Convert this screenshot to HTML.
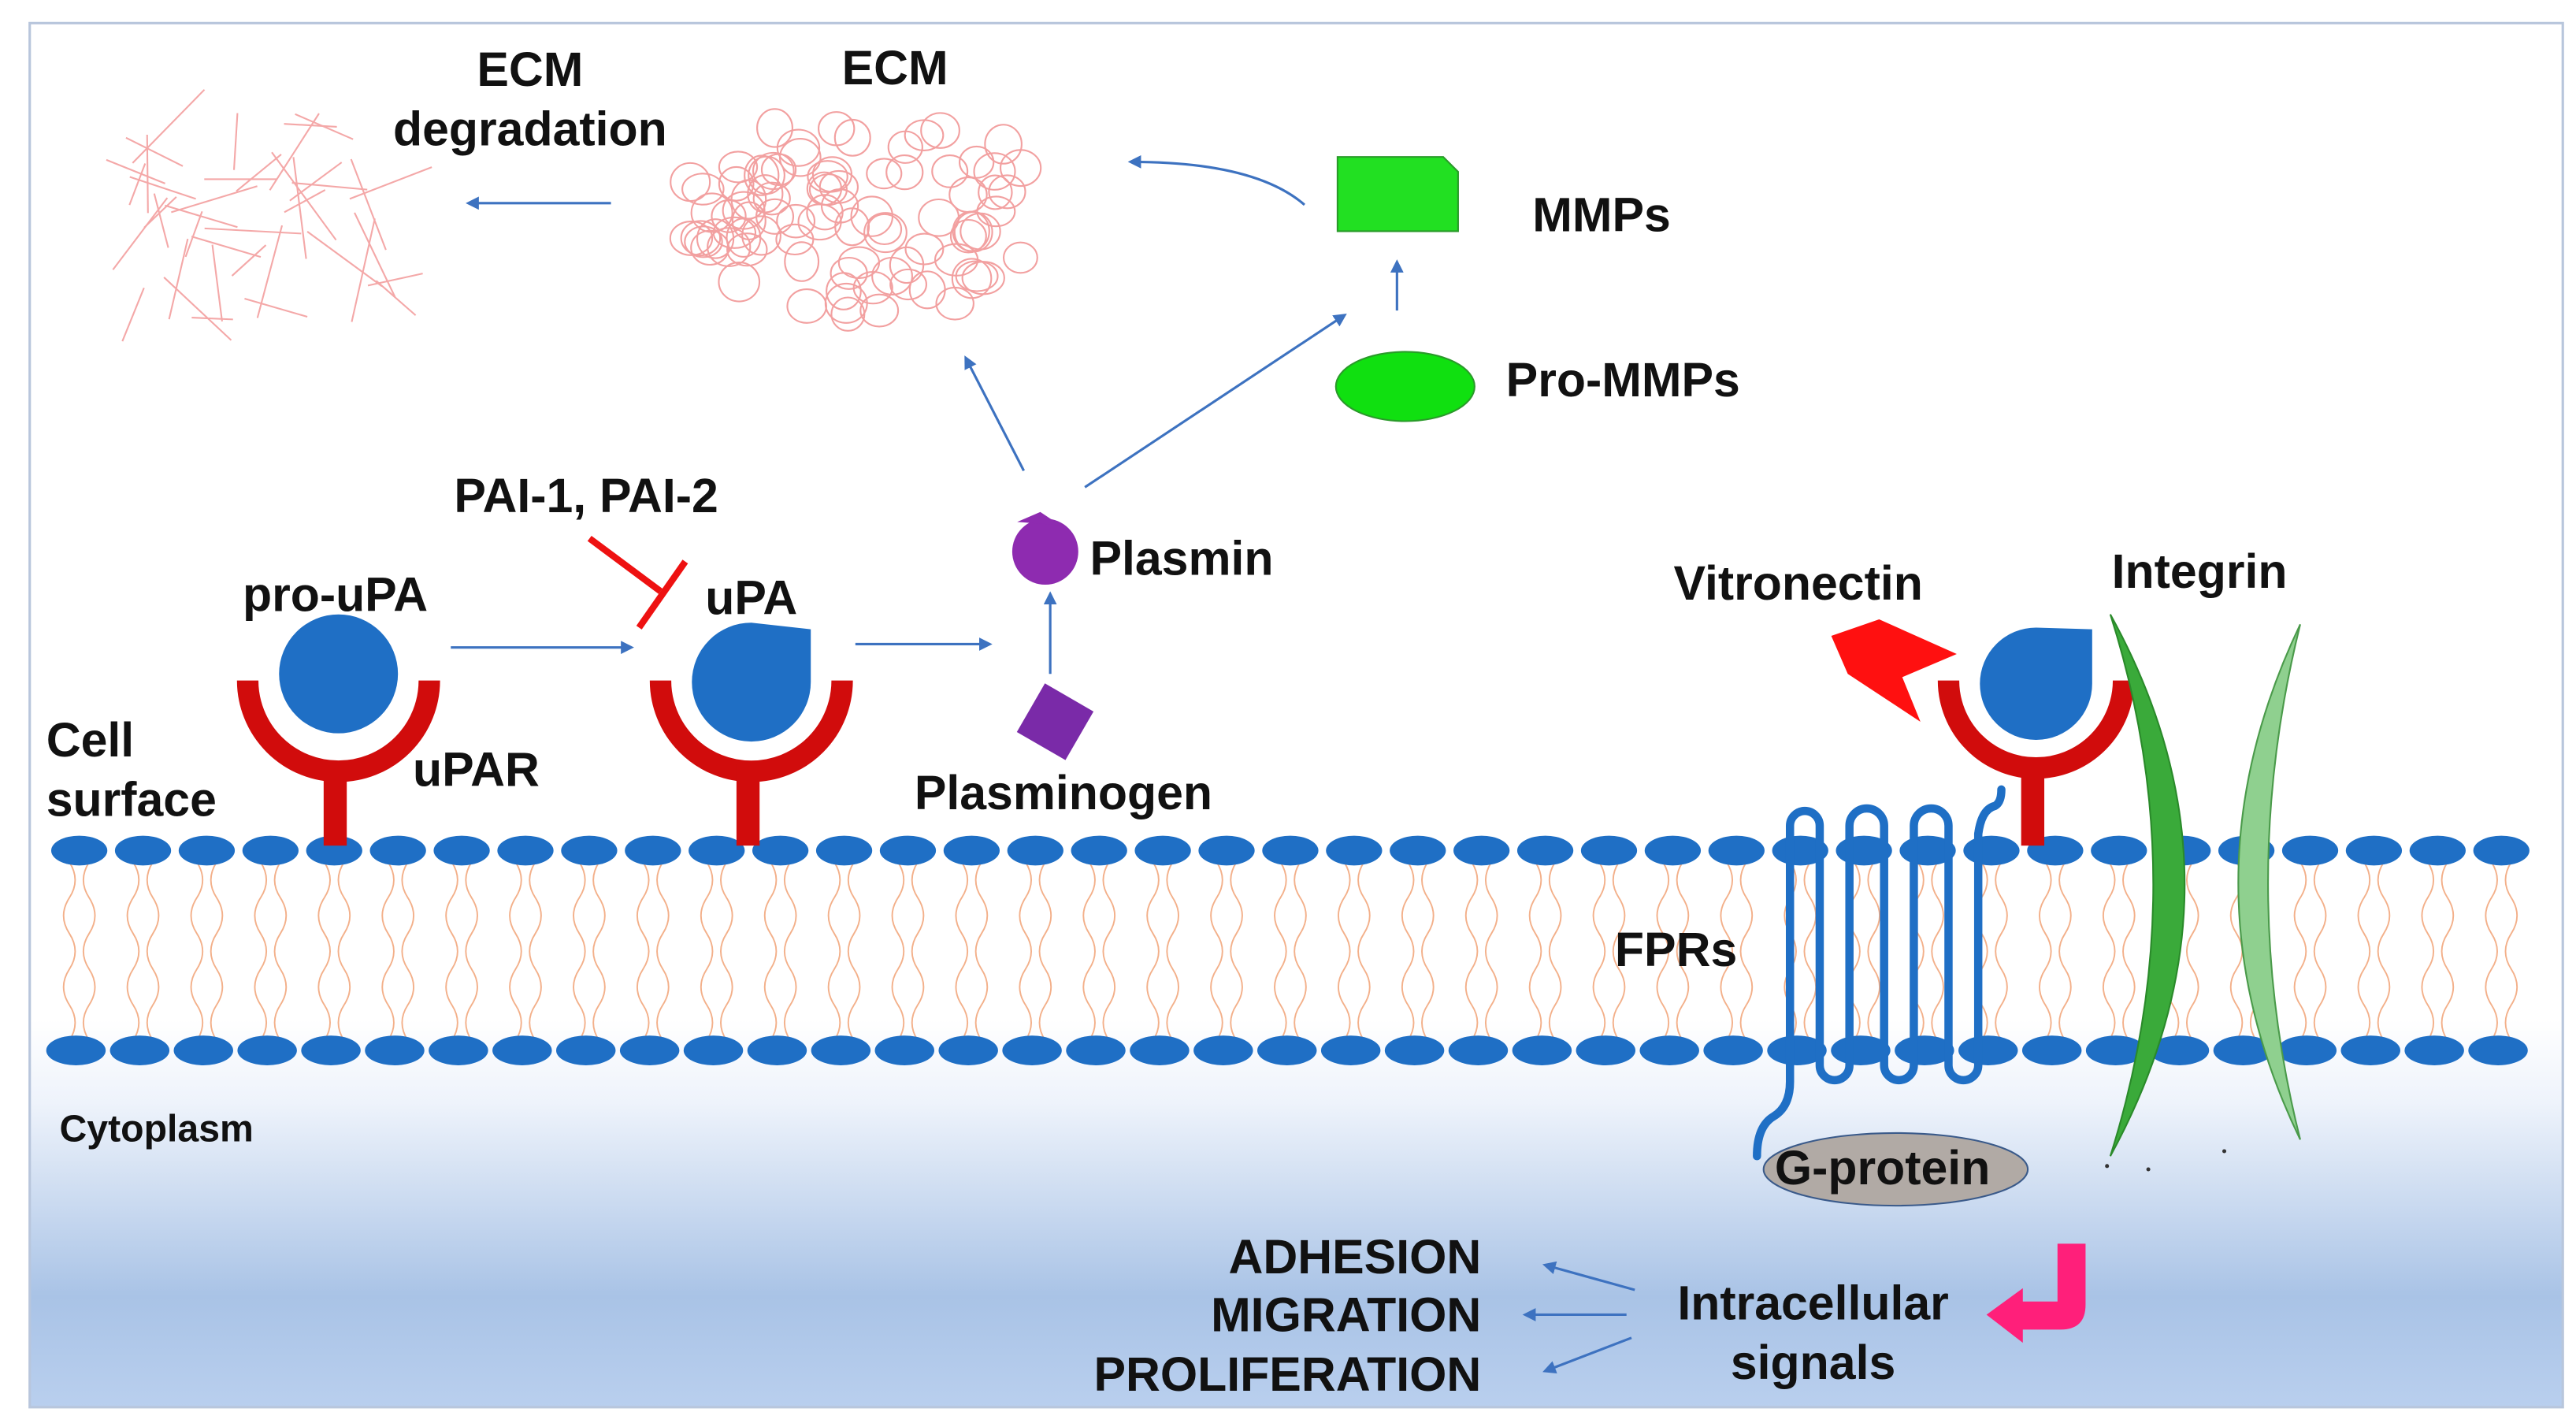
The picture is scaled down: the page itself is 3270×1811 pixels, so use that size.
<!DOCTYPE html>
<html><head><meta charset="utf-8"><style>
html,body{margin:0;padding:0;background:#fff;}
svg{display:block;}
text{font-family:"Liberation Sans",Arial,sans-serif;font-weight:bold;fill:#111;}
</style></head><body>
<svg id="s" width="3270" height="1811" viewBox="0 0 1560 864" preserveAspectRatio="none" xmlns="http://www.w3.org/2000/svg">
<defs>
<linearGradient id="bg" x1="0" y1="0" x2="0" y2="1">
<stop offset="0" stop-color="#ffffff"/>
<stop offset="0.72" stop-color="#ffffff"/>
<stop offset="0.78" stop-color="#eef3fb"/>
<stop offset="0.92" stop-color="#a9c3e6"/>
<stop offset="1" stop-color="#b9cfee"/>
</linearGradient>
<marker id="ah" markerWidth="8" markerHeight="8" refX="6" refY="4" orient="auto" markerUnits="userSpaceOnUse">
<path d="M0,0 L8,4 L0,8 z" fill="#3d72c0"/>
</marker>
</defs>
<rect x="18" y="14" width="1534" height="838" fill="url(#bg)" stroke="#b8c6dc" stroke-width="1.5"/>
<g id="mem"></g>
<g id="ecm" fill="none" stroke="#f2a0a0" stroke-width="1"></g>
<g id="fib" stroke="#f4a8a8" stroke-width="1"></g>

<g stroke="#3d72c0" stroke-width="1.5" fill="none" marker-end="url(#ah)">
<line x1="370" y1="123" x2="284" y2="123"/>
<path d="M790,124 Q760,98 685,98"/>
<line x1="846" y1="188" x2="846" y2="159"/>
<line x1="657" y1="295" x2="814" y2="191"/>
<line x1="620" y1="285" x2="585" y2="217"/>
<line x1="273" y1="392" x2="382" y2="392"/>
<line x1="518" y1="390" x2="599" y2="390"/>
<line x1="636" y1="408" x2="636" y2="360"/>
<line x1="990" y1="781" x2="936" y2="766"/>
<line x1="985" y1="796" x2="924" y2="796"/>
<line x1="988" y1="810" x2="936" y2="830"/>
</g>
<line x1="357" y1="326" x2="400" y2="358" stroke="#ee1111" stroke-width="4"/>
<line x1="387" y1="380" x2="415" y2="340" stroke="#ee1111" stroke-width="4"/>

<path d="M810,95 L874,95 L883,104 L883,140 L810,140 z" fill="#22e022" stroke="#2a9a2a" stroke-width="1"/>
<ellipse cx="851" cy="234" rx="42" ry="21" fill="#10e010" stroke="#2a9a2a" stroke-width="1"/>

<circle cx="633" cy="334" r="20" fill="#8e2bb0"/>
<path d="M616,316 L630,310 L642,318 z" fill="#8e2bb0"/>
<rect x="622" y="420" width="34" height="34" fill="#7a2aa8" transform="rotate(30 639 437)"/>

<g fill="none" stroke="#d10c0c" stroke-width="13">
<path d="M150,412 A55,55 0 0 0 260,412"/>
<path d="M400,412 A55,55 0 0 0 510,412"/>
<path d="M1180,412 A52,52 0 0 0 1286,412"/>
</g>
<rect x="196" y="462" width="14" height="50" fill="#d10c0c"/>
<rect x="446" y="462" width="14" height="50" fill="#d10c0c"/>
<rect x="1224" y="462" width="14" height="50" fill="#d10c0c"/>
<circle cx="205" cy="408" r="36" fill="#1f6fc5"/>
<path d="M491,381 L491,413 A36,36 0 1 1 455,377 z" fill="#1f6fc5"/>
<path d="M1267,381 L1267,414 A34,34 0 1 1 1233,380 z" fill="#1f6fc5"/>

<path d="M1109,385 L1138,375 L1185,396 L1152,410 L1163,437 L1119,408 z" fill="#ff1010"/>

<g fill="none" stroke="#1f6fc5" stroke-width="5" stroke-linecap="round">
<path d="M1064,700 Q1064,682 1074,676 Q1084,670 1084,655 L1084,500 A9,9 0 0 1 1102,500 L1102,645 A9,9 0 0 0 1120,645 L1120,500 A10.5,10.5 0 0 1 1141,500 L1141,645 A9,9 0 0 0 1159,645 L1159,500 A10.5,10.5 0 0 1 1180,500 L1180,645 A9,9 0 0 0 1198,645 L1198,505"/>
<path d="M1198,505 Q1200,490 1208,488 Q1212,486 1212,478"/>
</g>
<ellipse cx="1148" cy="708" rx="80" ry="22" fill="#b1aaa5" stroke="#3a5a8a" stroke-width="1"/>

<path d="M1278,372 Q1368,535 1278,700 Q1330,535 1278,372 z" fill="#3aaa3a" stroke="#2a8a2a" stroke-width="1"/>
<path d="M1393,378 Q1318,535 1393,690 Q1354,535 1393,378 z" fill="#8fd08f" stroke="#4a9a4a" stroke-width="1"/>
<circle cx="1276" cy="706" r="1.2" fill="#333"/><circle cx="1301" cy="708" r="1.2" fill="#333"/><circle cx="1347" cy="697" r="1.2" fill="#333"/>

<path d="M1246,753 L1263,753 L1263,790 Q1263,805 1248,805 L1225,805 L1225,813 L1203,796 L1225,780 L1225,788 L1246,788 z" fill="#ff1f7a"/>

<g font-size="29">
<text x="321" y="52" text-anchor="middle">ECM</text>
<text x="321" y="88" text-anchor="middle">degradation</text>
<text x="542" y="51" text-anchor="middle">ECM</text>
<text x="928" y="140">MMPs</text>
<text x="912" y="240">Pro-MMPs</text>
<text x="355" y="310" text-anchor="middle">PAI-1, PAI-2</text>
<text x="203" y="370" text-anchor="middle">pro-uPA</text>
<text x="455" y="372" text-anchor="middle">uPA</text>
<text x="660" y="348">Plasmin</text>
<text x="1089" y="363" text-anchor="middle">Vitronectin</text>
<text x="1332" y="356" text-anchor="middle">Integrin</text>
<text x="28" y="458">Cell</text>
<text x="28" y="494">surface</text>
<text x="250" y="476">uPAR</text>
<text x="644" y="490" text-anchor="middle">Plasminogen</text>
<text x="1015" y="585" text-anchor="middle">FPRs</text>
<text x="1140" y="717" text-anchor="middle">G-protein</text>
<text x="897" y="771" text-anchor="end">ADHESION</text>
<text x="897" y="806" text-anchor="end">MIGRATION</text>
<text x="897" y="842" text-anchor="end">PROLIFERATION</text>
<text x="1098" y="799" text-anchor="middle">Intracellular</text>
<text x="1098" y="835" text-anchor="middle">signals</text>
</g>
<text x="36" y="691" font-size="23">Cytoplasm</text>
</svg>
<script>
(function(){
var NS="http://www.w3.org/2000/svg";
function el(p,t,a){var e=document.createElementNS(NS,t);for(var k in a)e.setAttribute(k,a[k]);p.appendChild(e);return e;}
var mem=document.getElementById("mem");
var tails=el(mem,"g",{fill:"none",stroke:"#f3b08a","stroke-width":"0.9"});
var heads=el(mem,"g",{fill:"#1f6fc5"});
for(var x=48;x<=1535;x+=38.6){
  [-6,6].forEach(function(o,i){
    var xx=x+o,y0=522,y1=630,d="M"+xx+","+y0;
    var n=5,h=(y1-y0)/n;
    for(var j=0;j<n;j++){var s=(j%2?1:-1)*(i?7:-7);d+=" Q"+(xx+s)+","+(y0+h*j+h/2)+" "+xx+","+(y0+h*(j+1));}
    el(tails,"path",{d:d});
  });
  el(heads,"ellipse",{cx:x,cy:515,rx:17,ry:9});
  el(heads,"ellipse",{cx:x-2,cy:636,rx:18,ry:9});
}
var ecm=document.getElementById("ecm");
var seed=7;function r(){seed=(seed*9301+49297)%233280;return seed/233280;}
for(var i=0;i<85;i++){
  var a=r()*Math.PI*2,rr=Math.sqrt(r());
  var cx=525+Math.cos(a)*rr*112,cy=128+Math.sin(a)*rr*64;
  el(ecm,"ellipse",{cx:cx.toFixed(1),cy:cy.toFixed(1),rx:(10+r()*3).toFixed(1),ry:(9+r()*3).toFixed(1)});
}
var fib=document.getElementById("fib");
for(var i=0;i<40;i++){
  var cx=80+r()*165,cy=75+r()*118,a=r()*Math.PI,l=12+r()*22;
  el(fib,"line",{x1:(cx-Math.cos(a)*l).toFixed(1),y1:(cy-Math.sin(a)*l).toFixed(1),x2:(cx+Math.cos(a)*l).toFixed(1),y2:(cy+Math.sin(a)*l).toFixed(1)});
}
})();
</script>
</body></html>
